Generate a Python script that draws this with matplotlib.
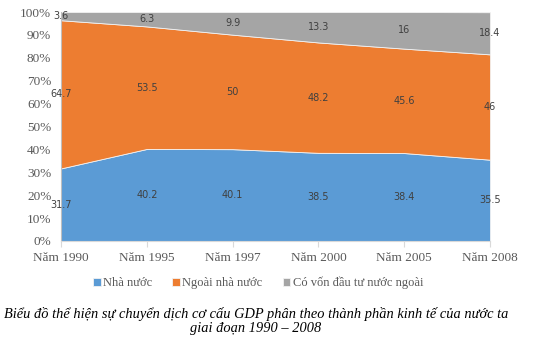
import numpy as np
import matplotlib
matplotlib.use('Agg')
import matplotlib.pyplot as plt

years = ['Năm 1990', 'Năm 1995', 'Năm 1997', 'Năm 2000', 'Năm 2005', 'Năm 2008']
nha_nuoc = [31.7, 40.2, 40.1, 38.5, 38.4, 35.5]
ngoai_nha_nuoc = [64.7, 53.5, 50, 48.2, 45.6, 46]
von_nuoc_ngoai = [3.6, 6.3, 9.9, 13.3, 16, 18.4]

series_names = ['Nhà nước', 'Ngoài nhà nước', 'Có vốn đầu tư nước ngoài']
colors = ['#5B9BD5', '#ED7D31', '#A5A5A5']

fig = plt.figure(figsize=(5.55, 3.43), dpi=100)
ax = fig.add_axes([0.110, 0.2974, 0.773, 0.6676])

x = np.arange(len(years))
data = [nha_nuoc, ngoai_nha_nuoc, von_nuoc_ngoai]
ax.stackplot(x, data, colors=colors, labels=series_names,
             edgecolor='#f2f2f2', linewidth=0.6)

# nhãn số liệu ở giữa mỗi dải
bottom = np.zeros(len(years))
for vals in data:
    vals = np.array(vals, dtype=float)
    for xi, b, v in zip(x, bottom, vals):
        ax.text(xi, b + v / 2, f'{v:g}', ha='center', va='center',
                fontsize=7, color='#404040', family='DejaVu Sans')
    bottom += vals

ax.set_xlim(0, len(years) - 1)
ax.set_ylim(0, 100)
ax.set_yticks(range(0, 101, 10))
ax.set_yticklabels([f'{v}%' for v in range(0, 101, 10)])
ax.set_xticks(x)
ax.set_xticklabels(years)

for lab in ax.get_xticklabels() + ax.get_yticklabels():
    lab.set_family('Liberation Serif')
    lab.set_fontsize(9.5)
    lab.set_color('#595959')

ax.tick_params(axis='y', length=0, pad=7)
ax.tick_params(axis='x', length=4, color='#D9D9D9', pad=4)
for s in ['top', 'right']:
    ax.spines[s].set_visible(False)
ax.spines['left'].set_color('#BFBFBF')
ax.spines['bottom'].set_color('#D9D9D9')

leg = fig.legend(loc='center', bbox_to_anchor=(0.465, 0.175), ncol=3, frameon=False,
                 prop={'family': 'Liberation Serif', 'size': 9},
                 handlelength=0.6, handleheight=0.6, handletextpad=0.2,
                 columnspacing=1.6)
for t in leg.get_texts():
    t.set_color('#595959')

fig.text(0.461, 0.065, 'Biểu đồ thể hiện sự chuyển dịch cơ cấu GDP phân theo thành phần kinh tế của nước ta\ngiai đoạn 1990 – 2008',
         ha='center', va='center', family='Liberation Serif', style='italic',
         fontsize=10.4, linespacing=1.1)

fig.savefig('out.png', dpi=100)
